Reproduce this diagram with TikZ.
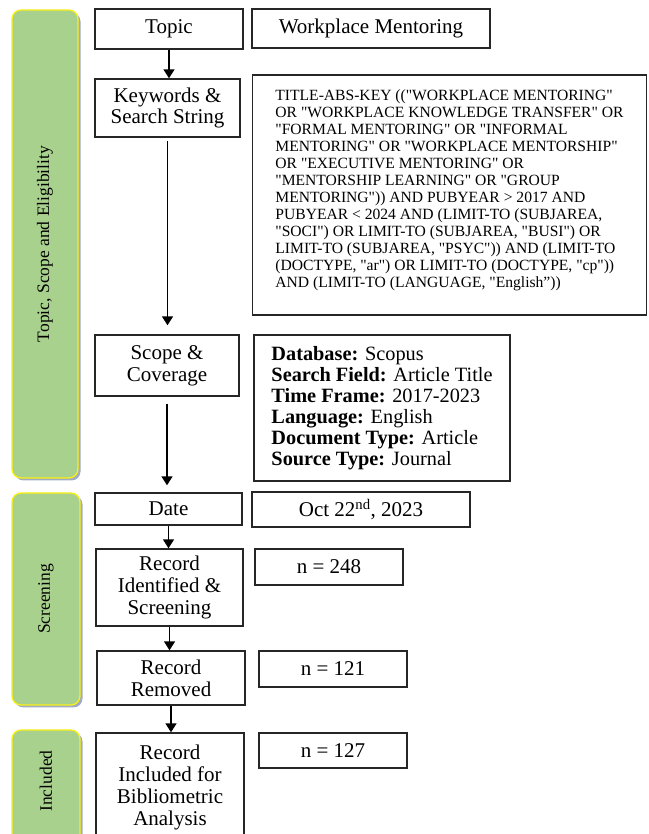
\documentclass[tikz,border=0pt]{standalone}
\usepackage{fontspec}
\setmainfont{Liberation Serif}[Ligatures=TeXOff]
\usetikzlibrary{arrows.meta,shadows}
\definecolor{phasegreen}{RGB}{169,209,142}
\definecolor{phaseedge}{RGB}{250,240,20}
\definecolor{phaseshadow}{RGB}{160,172,196}

\begin{document}
\begin{tikzpicture}[x=1pt,y=1pt,
    box/.style={draw=black!85, line width=1.4pt, inner sep=2pt, align=center, font=\fontsize{21}{21.7}\selectfont},
    phase/.style={draw=phaseedge, line width=1.3pt, fill=phasegreen, rounded corners=9pt, font=\fontsize{17.5}{20}\selectfont,
        drop shadow={shadow xshift=2.5pt, shadow yshift=-2.5pt, fill=phaseshadow, opacity=1}},
    flow/.style={-{Triangle[width=11pt,length=9pt]}, line width=1.5pt}]
    \useasboundingbox (0,0) rectangle (648,834);
    \clip (0,0) rectangle (648,834);
    % phases
    \node [phase, minimum width=66pt, minimum height=468pt] (phaseone) at (45,590) {\rotatebox{90}{Topic, Scope and Eligibility}};
    \node [phase, minimum width=68pt, minimum height=212pt] (phasetwo) at (46,235) {\rotatebox{90}{Screening}};
    \node [phase, minimum width=68pt, minimum height=120pt] (phasethree) at (46,44) {\rotatebox{90}{\hspace{18pt}Included}};
    % left column
    \node [box, minimum width=148pt, minimum height=40pt] (topic) at (169,805) {Topic};
    \node [box, minimum width=145pt, minimum height=58pt] (keywords) at (167.5,726) {Keywords \&\\Search String};
    \node [box, minimum width=144pt, minimum height=61pt] (scope) at (167,468.5) {Scope \&\\Coverage};
    \node [box, minimum width=147pt, minimum height=32pt] (date) at (168.5,325) {Date};
    \node [box, minimum width=147pt, minimum height=77pt] (identified) at (169.5,246.5) {Record\\Identified \&\\Screening};
    \node [box, minimum width=148pt, minimum height=54pt] (removed) at (171,156) {Record\\Removed};
    \node [box, minimum width=148pt, minimum height=109pt] (included) at (170,46.5) {Record\\Included for\\Bibliometric\\Analysis};
    % right column
    \node [box, minimum width=238pt, minimum height=39pt] (mentoring) at (371,805.5) {Workplace Mentoring};
    \node [box, minimum width=394pt, minimum height=240pt, align=left, text depth=13pt, font=\fontsize{15.6}{17}\selectfont] (query) at (449.5,639) {%
        TITLE-ABS-KEY (("WORKPLACE MENTORING"\\
        OR "WORKPLACE KNOWLEDGE TRANSFER" OR\\
        "FORMAL MENTORING" OR "INFORMAL\\
        MENTORING" OR "WORKPLACE MENTORSHIP"\\
        OR "EXECUTIVE MENTORING" OR\\
        "MENTORSHIP LEARNING" OR "GROUP\\
        MENTORING")) AND PUBYEAR > 2017 AND\\
        PUBYEAR < 2024 AND (LIMIT-TO (SUBJAREA,\\
        "SOCI") OR LIMIT-TO (SUBJAREA, "BUSI") OR\\
        LIMIT-TO (SUBJAREA, "PSYC")) AND (LIMIT-TO\\
        (DOCTYPE, "ar") OR LIMIT-TO (DOCTYPE, "cp"))\\
        AND (LIMIT-TO (LANGUAGE, "English”))};
    \node [box, minimum width=256pt, minimum height=146pt, align=left, font=\fontsize{20.3}{21}\selectfont] (scopeinfo) at (382,426) {%
        \textbf{Database:} Scopus\\
        \textbf{Search Field:} Article Title\\
        \textbf{Time Frame:} 2017-2023\\
        \textbf{Language:} English\\
        \textbf{Document Type:} Article\\
        \textbf{Source Type:} Journal};
    \node [box, minimum width=218pt, minimum height=35pt] (datevalue) at (361,324.5) {Oct 22\textsuperscript{nd}, 2023};
    \node [box, minimum width=148pt, minimum height=36pt] (nident) at (329,267) {n = 248};
    \node [box, minimum width=148pt, minimum height=36pt] (nremoved) at (333,165) {n = 121};
    \node [box, minimum width=148pt, minimum height=35pt] (nincluded) at (333,83.5) {n = 127};
    % arrows
    \draw [flow] (topic.south) -- (topic.south |- keywords.north);
    \draw [flow, shorten <=3pt, shorten >=9pt] (keywords.south) -- (keywords.south |- scope.north);
    \draw [flow, shorten <=7pt, shorten >=7pt] (scope.south) -- (scope.south |- date.north);
    \draw [flow] (date.south) -- (date.south |- identified.north);
    \draw [flow] (identified.south) -- (identified.south |- removed.north);
    \draw [flow] (removed.south) -- (removed.south |- included.north);
\end{tikzpicture}
\end{document}
